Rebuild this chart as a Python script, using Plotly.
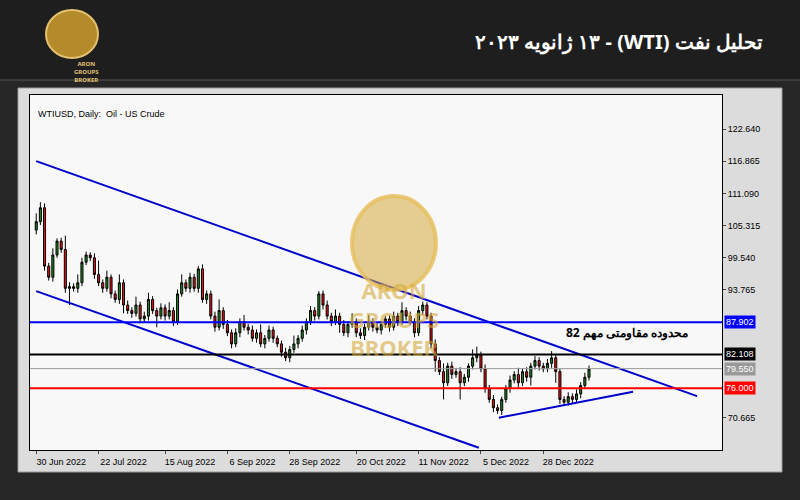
import plotly.graph_objects as go

opens = [104.5,106,108.5, 98,96,100,102.5,101,94,94.3,94,95,98.7,100, 99.5,96.5,95,94,96,93,92,95,
 91,90,89.5,91,88.5,89,92,90,89,90.5,89,90,88,93,95, 94,96,94,97.5,92, 93,89,87,90,87.5,86,
 84,86,88,87,86.5,85,86,84,85,86.5,85,84, 82.5,81.5,83,84,85, 86.5,88,90,89,93,91,
 89,88,89,87.5,86,87.5,88,86,85.5,87,88,87,86.5,87.5,88.5, 87,89,88,90,89,88,86,90,91,89,
 84,81,79,77,80,78.5,79,77,78, 80,81.5,82,79.5, 76,74,72.5,72, 74,76,77.5,78.5,77,79,78,80,81,80,
 79.5,80.5,81.5,79, 74,73.5,74.5,74,75,76.5,78]
closes = [106,108.5,98, 96,100,102.5,101,94,94.3,94,95,98.7,100,99.5, 96.5,95,94,96,93,92,95,91,
 90,89.5,91,88.5,89,92,90,89,90.5,89,90,88,93,95,94, 96,94,97.5,92,93, 89,87,90,87.5,86,84,
 86,88,87,86.5,85,86,84,85,86.5,85,84,82.5, 81.5,83,84,85,86.5, 88,90,89,93,91,89,
 88,89,87.5,86,87.5,88,86,85.5,87,88,87,86.5,87.5,88.5,87, 89,88,90,89,88,86,90,91,89,84,
 81,79,77,80,78.5,79,77,78,80, 81.5,82,79.5,76, 74,72.5,72,74, 76,77.5,78.5,77,79,78,80,81,80,79.5,
 80.5,81.5,79,74, 73.5,74.5,74,75,76.5,78,79.5]
wick_up = [1.5,1,0.8, 0.6,1.2,0.5,0.6,2.5,0.8,0.6,1.5,0.8,0.6,0.5, 0.8,2.5,0.6,1.2,0.5,0.6,1.5,0.6,
 0.8,0.6,1.5,0.6,0.8,1.2,0.6,0.5,0.8,0.6,1.5,0.6,0.8,1.5,0.6, 0.8,0.6,0.5,0.8,0.6, 0.6,0.8,2,0.6,0.8,0.6,
 0.8,0.6,1.2,0.6,0.8,0.6,1.5,0.6,0.8,0.6,0.5,0.6, 0.8,0.6,1.5,0.6,0.8, 0.6,0.8,0.6,0.5,0.6,0.8,
 0.6,1.2,0.6,0.8,0.6,1.5,0.6,0.8,0.6,1.2,0.6,0.8,0.6,0.5,0.6, 0.8,0.6,1.5,0.6,0.8,0.6,0.8,0.6,0.5,0.6,
 0.8,0.6,1.5,0.6,0.8,0.6,0.8,0.6,0.5, 1.5,1.5,0.6,0.8, 0.6,0.8,0.6,0.5, 0.6,0.8,0.6,1.2,0.6,0.8,0.6,0.8,0.6,0.6,
 0.8,1.2,0.6,0.5, 0.6,0.8,0.6,0.8,0.6,0.8,0.6]
wick_dn = [0.8,0.6,0.8, 0.6,0.8,0.5,0.6,0.8,3,0.6,0.8,0.6,0.5,0.6, 0.8,0.6,0.8,0.6,0.8,0.6,0.8,1.5,
 0.6,0.8,0.6,0.8,0.6,0.8,0.6,2,0.6,0.8,0.6,0.8,0.6,0.5,0.6, 0.8,0.6,0.8,0.6,0.8, 0.6,0.8,0.6,0.8,0.6,0.8,
 0.6,0.8,0.6,0.8,0.6,0.8,0.6,0.8,0.6,0.8,0.6,0.8, 0.6,0.8,0.6,0.8,0.6, 0.8,0.6,0.8,0.6,0.8,0.6,
 0.8,0.6,1.5,0.6,0.8,0.6,0.8,0.6,0.8,0.6,0.8,0.6,0.8,0.6,0.8, 0.6,0.8,0.6,0.8,0.6,0.8,0.6,0.8,0.6,0.8,
 2,0.6,3,0.6,0.8,0.6,3,0.6,0.8, 0.6,0.8,0.6,0.8, 0.6,0.8,0.6,0.8, 0.6,0.8,0.6,0.8,0.6,0.8,1.5,0.6,0.8,0.6,
 0.6,0.8,2,0.8, 0.6,0.6,0.8,0.6,0.8,0.6,0.6]
highs = [max(o, c) + w for o, c, w in zip(opens, closes, wick_up)]
lows = [min(o, c) - w for o, c, w in zip(opens, closes, wick_dn)]
bars = list(range(len(closes)))

date_ticks = [0, 15, 31, 46, 61, 77, 92, 107, 122]
date_labels = ["30 Jun 2022", "22 Jul 2022", "15 Aug 2022", "6 Sep 2022", "28 Sep 2022",
               "20 Oct 2022", "11 Nov 2022", "5 Dec 2022", "28 Dec 2022"]
price_ticks = [122.640, 116.865, 111.090, 105.315, 99.540, 93.765, 70.665]

# drawn trend lines (bar index, price)
upper_channel = [(0, 116.9), (159, 74.6)]
lower_channel = [(0, 93.5), (106.5, 65.3)]
support_line = [(111.3, 70.7), (143.6, 75.4)]
levels = [(87.902, "#0000ff", "87.902", 2), (82.108, "#000000", "82.108", 2),
          (79.550, "#999999", "79.550", 1), (76.000, "#ff0000", "76.000", 2)]

def px(x): return x / 800
def py(y): return 1 - y / 500

fig = go.Figure()
fig.add_trace(go.Candlestick(x=bars, open=opens, high=highs, low=lows, close=closes,
    increasing=dict(line=dict(color="#000000", width=1), fillcolor="#1f8a1f"),
    decreasing=dict(line=dict(color="#000000", width=1), fillcolor="#ee1111"),
    whiskerwidth=0, showlegend=False, hoverinfo="skip"))
for pts, col in [(upper_channel, "#0000cc"), (lower_channel, "#0000cc"), (support_line, "#0000cc")]:
    fig.add_trace(go.Scatter(x=[p[0] for p in pts], y=[p[1] for p in pts], mode="lines",
                             line=dict(color=col, width=2), showlegend=False, hoverinfo="skip"))

shapes = [
    dict(type="rect", xref="paper", yref="paper", x0=0, x1=1, y0=py(80), y1=1,
         fillcolor="#1e1e1e", line=dict(width=0), layer="below"),
    dict(type="line", xref="paper", yref="paper", x0=0, x1=1, y0=py(80), y1=py(80),
         line=dict(color="#555", width=1)),
    dict(type="rect", xref="paper", yref="paper", x0=px(18), x1=px(782), y0=py(472), y1=py(88),
         fillcolor="#dcdcdc", line=dict(color="#999", width=1), layer="below"),
    dict(type="rect", xref="paper", yref="paper", x0=px(30), x1=px(722), y0=py(450), y1=py(95),
         fillcolor="#f8f8f8", line=dict(width=0), layer="below"),
    dict(type="circle", xref="paper", yref="paper", x0=px(46), x1=px(98), y0=py(58), y1=py(10),
         fillcolor="#b58a2a", line=dict(color="#e3c070", width=2)),
    dict(type="circle", xref="paper", yref="paper", x0=px(352), x1=px(436), y0=py(290), y1=py(196),
         fillcolor="rgba(214,170,60,0.55)", line=dict(color="rgba(230,190,90,0.8)", width=4)),
]
for val, col, _, w in levels:
    shapes.append(dict(type="line", xref="x", yref="y", x0=-1.5, x1=165, y0=val, y1=val,
                       line=dict(color=col, width=w)))
annotations = [
    dict(text="<b>\u202bتحلیل نفت (WTI) - ۱۳ ژانویه ۲۰۲۳\u202c</b>", x=px(765), y=py(42), xref="paper", yref="paper",
         xanchor="right", yanchor="middle", showarrow=False, font=dict(color="white", size=20, family="Noto Sans")),
    dict(text="<b>ARON<br>GROUPS<br>BROKER</b>", x=px(72), y=py(58), xref="paper", yref="paper",
         showarrow=False, yanchor="top", font=dict(color="#e0c070", size=6, family="Noto Sans")),
    dict(text="WTIUSD, Daily:  Oil - US Crude", x=px(36), y=py(107), xref="paper", yref="paper",
         xanchor="left", showarrow=False, font=dict(color="#000", size=9, family="Liberation Sans")),
    dict(text="<b>محدوده مقاومتی مهم 82</b>", x=px(690), y=py(343), xref="paper", yref="paper",
         xanchor="right", showarrow=False, font=dict(color="#000", size=12, family="Noto Sans")),
    dict(text="<b>ARON<br>GROUPS<br>BROKER</b>", x=px(394), y=py(318), xref="paper", yref="paper",
         showarrow=False, font=dict(color="rgba(214,170,60,0.6)", size=22, family="Noto Sans")),
]
for val, col, lab, _ in levels:
    annotations.append(dict(text=lab, x=px(724), y=val, xref="paper", yref="y", xanchor="left",
        showarrow=False, bgcolor=col, font=dict(color="white", size=9, family="Liberation Sans"),
        borderpad=1))

fig.update_layout(
    width=800, height=500, margin=dict(l=0, r=0, t=0, b=0, autoexpand=False),
    paper_bgcolor="#262626", plot_bgcolor="rgba(0,0,0,0)",
    shapes=shapes, annotations=annotations,
    xaxis=dict(domain=[px(30), px(722)], range=[-1.5, 165], tickvals=date_ticks, ticktext=date_labels,
               showgrid=False, rangeslider=dict(visible=False), ticks="outside", ticklen=3,
               ticklabelshift=25,
               tickfont=dict(size=9, color="#000", family="Liberation Sans"), automargin=False,
               showline=True, linecolor="#000", mirror=True, zeroline=False),
    yaxis=dict(domain=[py(450), py(95)], range=[64.9, 128.8], side="right", tickvals=price_ticks,
               tickformat=".3f", showgrid=False, ticks="outside", ticklen=3, automargin=False,
               tickfont=dict(size=9, color="#000", family="Liberation Sans"),
               showline=True, linecolor="#000", mirror=True, zeroline=False),
)
fig.write_html("out.html", config={"displayModeBar": False},
               post_script="document.body.style.margin='0';")
